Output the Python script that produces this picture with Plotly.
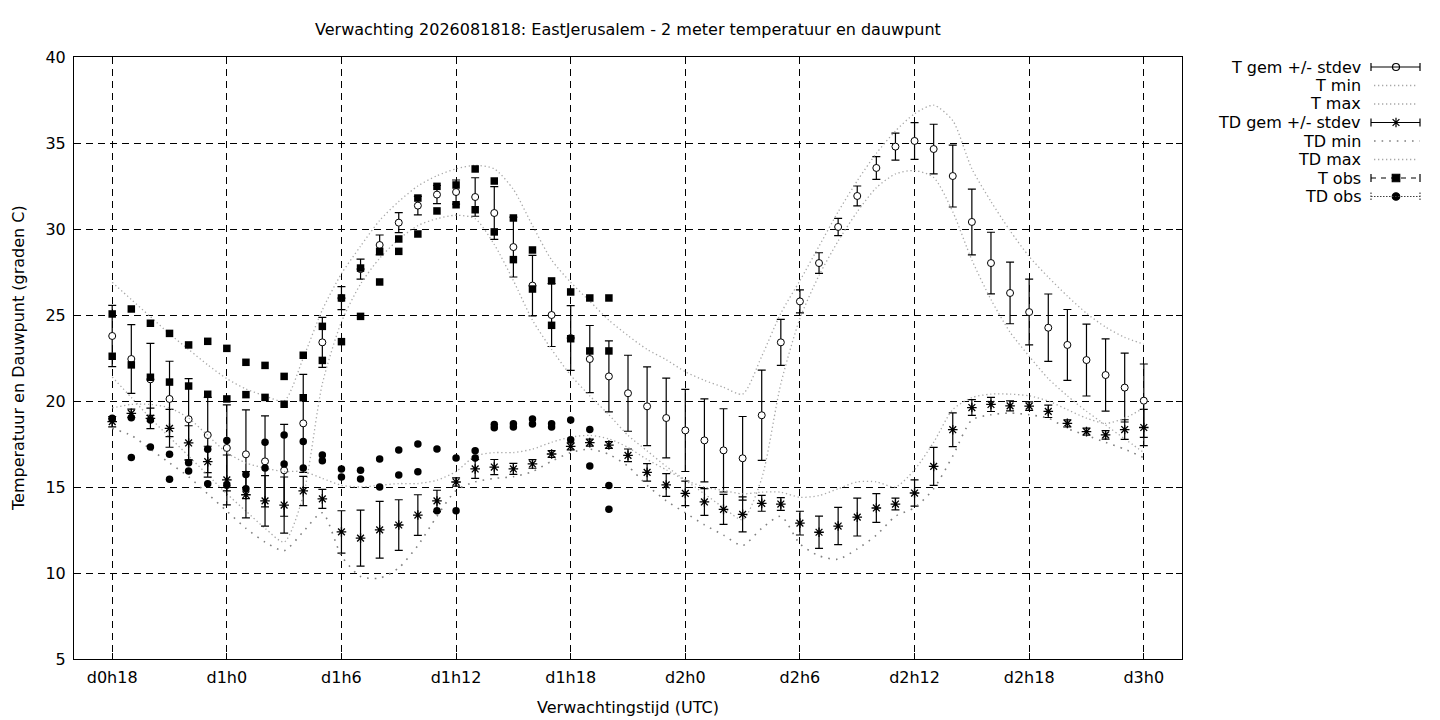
import plotly.graph_objects as go

# forecast hours (hours after d0h0), one ensemble value per hour
hours = list(range(18, 73))

t_mean = [23.78, 22.44, 21.26, 20.12, 18.94, 18.02, 17.27, 16.90, 16.49, 15.97,
          18.70, 23.41, 25.98, 27.67, 29.07, 30.37, 31.36, 32.00, 32.15, 31.86,
          30.93, 28.95, 26.71, 25.00, 23.66, 22.44, 21.43, 20.45, 19.69, 19.01,
          18.29, 17.71, 17.13, 16.67, 19.17, 23.41, 25.79, 28.02, 30.12, 31.92,
          33.55, 34.79, 35.12, 34.65, 33.08, 30.41, 28.02, 26.28, 25.17, 24.26,
          23.26, 22.38, 21.51, 20.78, 20.02]
t_sd = [1.78, 2.00, 2.09, 2.19, 2.36, 2.19, 2.50, 2.58, 2.64, 2.67,
        2.85, 1.45, 0.67, 0.58, 0.58, 0.58, 0.54, 0.53, 0.70, 1.12,
        1.53, 1.74, 1.76, 1.83, 1.88, 1.95, 2.06, 2.21, 2.29, 2.32,
        2.39, 2.41, 2.42, 2.43, 2.62, 1.34, 0.67, 0.60, 0.50, 0.58,
        0.66, 0.78, 1.07, 1.44, 1.80, 1.91, 1.79, 1.79, 1.91, 1.96,
        2.06, 2.09, 2.10, 2.00, 2.13]
t_min = [21.4, 20.2, 19.0, 17.9, 16.8, 15.7, 14.6, 13.6, 12.6, 11.8,
         14.5, 21.0, 24.6, 26.8, 28.3, 29.4, 30.2, 30.6, 30.8, 30.6,
         29.1, 27.0, 24.7, 23.0, 21.5, 20.3, 19.2, 18.0, 17.1, 16.2,
         15.4, 14.6, 13.8, 13.1, 15.5, 21.0, 24.8, 27.3, 29.3, 31.0,
         32.4, 33.2, 33.4, 33.0, 31.0, 28.2, 25.9, 24.0, 22.6, 21.3,
         20.3, 19.4, 18.6, 17.8, 17.0]
t_max = [26.9, 25.9, 24.9, 23.9, 23.0, 22.1, 21.3, 20.7, 20.3, 20.0,
         22.5, 25.3, 27.4, 29.0, 30.5, 31.6, 32.5, 33.1, 33.5, 33.7,
         33.5, 32.3, 30.2, 28.2, 26.9, 25.8, 24.7, 23.8, 23.0, 22.4,
         21.7, 21.2, 20.8, 20.4, 22.6, 25.1, 27.0, 29.0, 31.0, 32.8,
         34.4, 35.7, 36.7, 37.2, 36.3, 33.5, 31.6, 29.9, 28.4, 27.2,
         26.1, 25.1, 24.3, 23.7, 23.3]

td_mean = [18.80, 19.28, 18.99, 18.41, 17.56, 16.47, 15.41, 14.55, 14.19, 13.95,
           14.77, 14.31, 12.39, 12.03, 12.51, 12.79, 13.37, 14.19, 15.29, 16.05,
           16.16, 16.05, 16.34, 16.92, 17.36, 17.58, 17.44, 16.84, 15.85, 15.12,
           14.63, 14.13, 13.70, 13.41, 14.05, 14.01, 12.90, 12.37, 12.73, 13.25,
           13.78, 14.01, 14.65, 16.20, 18.33, 19.62, 19.80, 19.72, 19.70, 19.40,
           18.70, 18.22, 18.03, 18.34, 18.46]
td_sd = [0.30, 0.25, 0.60, 1.10, 1.00, 0.90, 1.45, 1.34, 1.47, 1.63,
         0.85, 0.55, 1.23, 1.63, 1.65, 1.47, 1.18, 0.62, 0.24, 0.55,
         0.44, 0.32, 0.25, 0.20, 0.20, 0.20, 0.20, 0.37, 0.51, 0.66,
         0.71, 0.78, 0.87, 1.02, 0.46, 0.37, 0.69, 0.94, 1.08, 1.10,
         0.84, 0.34, 0.76, 1.10, 0.98, 0.46, 0.41, 0.29, 0.25, 0.36,
         0.20, 0.20, 0.25, 0.57, 1.05]
td_min = [18.4, 18.0, 17.2, 16.4, 15.6, 14.6, 13.6, 12.6, 11.8, 11.3,
          12.4, 13.5, 11.0, 9.8, 9.7, 10.3, 11.6, 13.3, 14.8, 15.3,
          15.5, 15.6, 15.9, 16.5, 17.0, 17.2, 16.9, 16.2, 15.1, 14.2,
          13.5, 12.8, 12.2, 11.6, 12.6, 13.3, 11.7, 11.0, 10.8, 11.4,
          12.2, 13.3, 13.8, 14.9, 16.8, 18.9, 19.2, 19.3, 19.2, 19.0,
          18.4, 18.0, 17.6, 17.2, 16.7]
td_max = [19.6, 19.8, 19.8, 19.6, 19.0, 18.0, 17.0, 16.4, 16.1, 15.9,
          15.9, 15.5, 15.1, 15.0, 15.1, 15.2, 15.2, 15.4, 15.9, 16.8,
          17.0, 17.0, 17.2, 17.6, 17.9, 18.0, 17.8, 17.3, 16.6, 16.0,
          15.4, 15.0, 14.8, 14.6, 14.7, 14.7, 14.4, 14.5, 14.9, 15.3,
          15.3, 15.0, 16.0, 17.6, 19.5, 20.2, 20.4, 20.4, 20.3, 20.0,
          19.5, 19.0, 18.7, 19.0, 19.6]

# observations: two stations per hour, d0h18 .. d1h20
obs_hours = list(range(18, 45))
t_obs_a = [25.06, 25.35, 24.52, 23.93, 23.26, 23.47, 23.06, 22.25, 22.07, 21.43,
           22.66, 24.34, 25.99, 27.73, 28.70, 29.42, 31.80, 32.48, 32.56, 33.49,
           32.79, 30.64, 28.78, 26.98, 26.34, 25.99, 25.99]
t_obs_b = [22.60, 22.10, 21.38, 21.10, 20.87, 20.39, 20.12, 20.37, 20.21, 19.81,
           20.19, 22.36, 23.45, 24.92, 26.92, 28.70, 29.71, 31.05, 31.41, 31.12,
           29.83, 28.22, 26.51, 24.40, 23.62, 22.91, 22.91]
td_obs_a = [19.00, 19.03, 18.90, 16.90, 16.41, 17.20, 17.71, 15.72, 17.60, 18.02,
            17.64, 16.86, 16.05, 15.97, 16.63, 17.15, 17.50, 17.21, 16.69, 17.11,
            18.64, 18.68, 18.95, 18.68, 18.90, 18.34, 15.08]
td_obs_b = [18.95, 16.72, 17.33, 15.45, 15.93, 15.19, 15.10, 14.90, 16.10, 16.34,
            16.10, 16.53, 15.58, 15.47, 15.00, 15.70, 15.89, 13.62, 13.62, 16.69,
            18.45, 18.49, 18.66, 18.49, 17.75, 16.22, 13.70]

x_ticks = [18, 24, 30, 36, 42, 48, 54, 60, 66, 72]
x_labels = ["d0h18", "d1h0", "d1h6", "d1h12", "d1h18",
            "d2h0", "d2h6", "d2h12", "d2h18", "d3h0"]
y_ticks = [5, 10, 15, 20, 25, 30, 35, 40]

legend_names = ["T gem +/- stdev", "T min", "T max", "TD gem +/- stdev",
                "TD min", "TD max", "T obs", "TD obs"]

W, H = 1440, 720
FONT = "DejaVu Sans, Verdana, sans-serif"
FS = 16
LIGHT = "#a8a8a8"
SPARSE = "#808080"
PAGE_OFFSET = 8  # default body margin of the html page


# screen pixel (from the top-left of the window) -> paper fraction
def px(sx):
    return (sx - PAGE_OFFSET) / W


def py(sy):
    return 1 - (sy - PAGE_OFFSET) / H


fig = go.Figure()

bars = dict(type="data", visible=True, color="black", thickness=1.2, width=4)

fig.add_trace(go.Scatter(
    x=hours, y=t_mean, mode="markers",
    error_y=dict(bars, array=t_sd),
    marker=dict(symbol="circle", size=7, color="white", line=dict(color="black", width=1))))
fig.add_trace(go.Scatter(
    x=hours, y=t_min, mode="lines",
    line=dict(color=LIGHT, width=1.3, dash="1.3px,2.7px", shape="spline", smoothing=0.7)))
fig.add_trace(go.Scatter(
    x=hours, y=t_max, mode="lines",
    line=dict(color=LIGHT, width=1.3, dash="1.3px,2.7px", shape="spline", smoothing=0.7)))
fig.add_trace(go.Scatter(
    x=hours, y=td_mean, mode="markers",
    error_y=dict(bars, array=td_sd),
    marker=dict(symbol="asterisk-open", size=8, color="black", line=dict(color="black", width=1.3))))
fig.add_trace(go.Scatter(
    x=hours, y=td_min, mode="lines",
    line=dict(color=SPARSE, width=1.6, dash="1.6px,6px", shape="spline", smoothing=0.7)))
fig.add_trace(go.Scatter(
    x=hours, y=td_max, mode="lines",
    line=dict(color=LIGHT, width=1.3, dash="1.3px,2.7px", shape="spline", smoothing=0.7)))
fig.add_trace(go.Scatter(
    x=obs_hours + obs_hours, y=t_obs_a + t_obs_b, mode="markers",
    marker=dict(symbol="square", size=7.5, color="black")))
fig.add_trace(go.Scatter(
    x=obs_hours + obs_hours, y=td_obs_a + td_obs_b, mode="markers",
    marker=dict(symbol="circle", size=7.5, color="black")))

# legend samples, gnuplot style (text right-aligned, sample to the right)
rows = [67, 85.5, 104, 122.5, 141, 159.5, 178, 196.5]
x0, x1, xm = 1371, 1420, 1396
leg_marks = [("circle", "white", 7), None, None, ("asterisk-open", "black", 8),
             None, None, ("square", "black", 7.5), ("circle", "black", 7.5)]
shapes = []
annotations = []
for name, row, mark in zip(legend_names, rows, leg_marks):
    annotations.append(dict(x=px(1363), y=py(row), xref="paper", yref="paper",
                            text=name, showarrow=False, xanchor="right", yanchor="middle",
                            font=dict(family=FONT, size=FS, color="black")))
    if name in ("T min", "T max", "TD max"):
        shapes.append(dict(type="line", xref="paper", yref="paper", x0=px(x0 + 3), x1=px(x1 - 3),
                           y0=py(row), y1=py(row), line=dict(color=LIGHT, width=1.3, dash="1.3px,2.7px")))
    elif name == "TD min":
        shapes.append(dict(type="line", xref="paper", yref="paper", x0=px(x0 + 3), x1=px(x1),
                           y0=py(row), y1=py(row), line=dict(color=SPARSE, width=1.6, dash="1.6px,6px")))
    else:
        if name == "T obs":
            ln = dict(color="black", width=1.2, dash="5px,5px")
            cap = dict(color="black", width=1.2)
        elif name == "TD obs":
            ln = dict(color="#404040", width=1.2, dash="1.5px,1.5px")
            cap = dict(color="#404040", width=1.2, dash="1.5px,1.5px")
        else:
            ln = dict(color="black", width=1.2)
            cap = dict(color="black", width=1.2)
        shapes.append(dict(type="line", xref="paper", yref="paper", x0=px(x0), x1=px(x1),
                           y0=py(row), y1=py(row), line=ln))
        for xc in (x0, x1):
            shapes.append(dict(type="line", xref="paper", yref="paper", x0=px(xc), x1=px(xc),
                               y0=py(row - 4), y1=py(row + 4), line=cap))
    if mark:
        sym, col, size = mark
        fig.add_trace(go.Scatter(
            x=[px(xm) * W], y=[(1 - py(row)) * H], xaxis="x2", yaxis="y2", mode="markers",
            marker=dict(symbol=sym, size=size, color=col, line=dict(color="black", width=1.2))))

annotations += [
    dict(x=px(628), y=py(29), xref="paper", yref="paper", showarrow=False,
         xanchor="center", yanchor="middle",
         text="Verwachting 2026081818: EastJerusalem - 2 meter temperatuur en dauwpunt",
         font=dict(family=FONT, size=FS, color="black")),
    dict(x=px(628), y=py(707), xref="paper", yref="paper", showarrow=False,
         xanchor="center", yanchor="middle",
         text="Verwachtingstijd (UTC)", font=dict(family=FONT, size=FS, color="black")),
    dict(x=px(18), y=py(358), xref="paper", yref="paper", showarrow=False, textangle=-90,
         xanchor="center", yanchor="middle",
         text="Temperatuur en Dauwpunt (graden C)", font=dict(family=FONT, size=FS, color="black")),
]

axis_common = dict(showline=True, linecolor="black", linewidth=1, mirror="ticks",
                   ticks="inside", ticklen=6, tickcolor="black",
                   showgrid=True, gridcolor="black", gridwidth=1, griddash="7px,5px",
                   zeroline=False, automargin=False,
                   tickfont=dict(family=FONT, size=FS, color="black"))

fig.update_layout(
    width=W, height=H,
    margin=dict(l=0, r=0, t=0, b=0),
    paper_bgcolor="white", plot_bgcolor="white",
    showlegend=False,
    xaxis=dict(axis_common, domain=[px(74), px(1182)], range=[16, 74],
               tickvals=x_ticks, ticktext=x_labels, anchor="y", ticklabelstandoff=4),
    yaxis=dict(axis_common, domain=[py(659), py(57)], range=[5, 40],
               tickvals=y_ticks, anchor="x", ticklabelstandoff=4),
    xaxis2=dict(domain=[px(1200), 1], range=[px(1200) * W, W], visible=False, anchor="y2"),
    yaxis2=dict(domain=[0, 1], range=[H, 0], visible=False, anchor="x2"),
    shapes=shapes,
    annotations=annotations,
)

fig.write_html("out.html")
